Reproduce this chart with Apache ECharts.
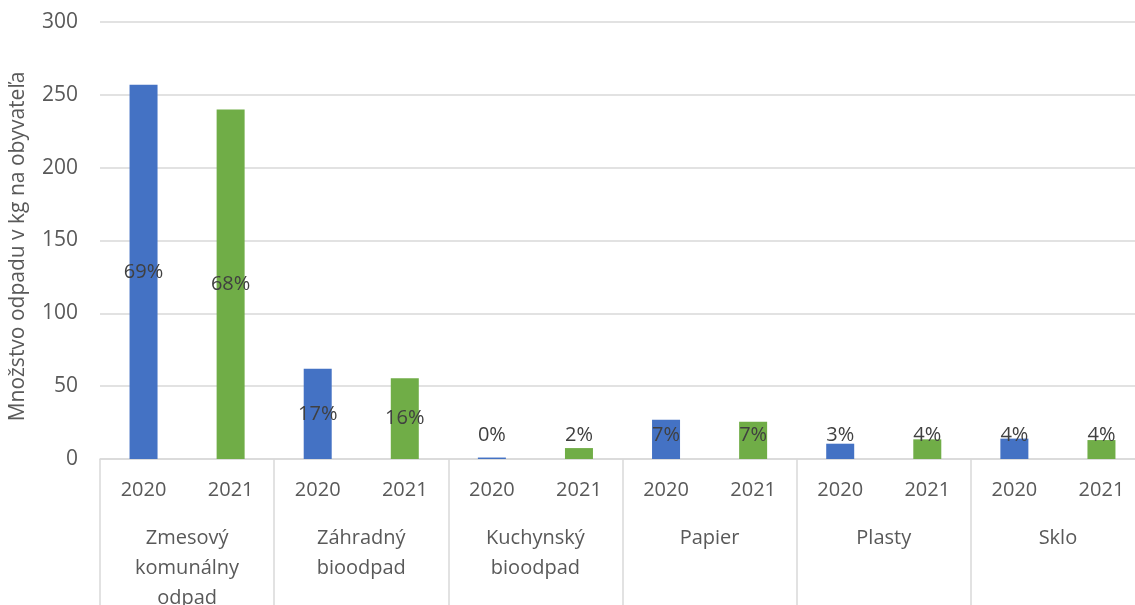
<!DOCTYPE html>
<html>
<head>
<meta charset="utf-8">
<script src="https://cdn.jsdelivr.net/npm/echarts@6/dist/echarts.min.js"></script>
<style>
  html, body { margin: 0; padding: 0; background: #fff; }
  #chart { width: 1135px; height: 605px; }
</style>
</head>
<body>
<div id="chart"></div>
<script>
// waste per inhabitant (kg), two years per waste type
const years = ['2020', '2021'];
const groups = ['Zmesový\nkomunálny\nodpad', 'Záhradný\nbioodpad', 'Kuchynský\nbioodpad', 'Papier', 'Plasty', 'Sklo'];
const values2020 = [257, 62, 1, 27, 10.5, 14];
const values2021 = [240, 55.5, 7.5, 25.5, 13.5, 13];
const share2020 = ['69%', '17%', '0%', '7%', '3%', '4%'];
const share2021 = ['68%', '16%', '2%', '7%', '4%', '4%'];
const yTicks = [0, 50, 100, 150, 200, 250, 300];

const font = '"Open Sans", "Noto Sans", sans-serif';
const gridColor = '#d9d9d9';

// flat category list: one slot per (group, year)
const slots = [];
groups.forEach(() => years.forEach(y => slots.push(y)));

function buildSeries(values, shares, yearIdx) {
  const data = [];
  groups.forEach((g, i) => {
    years.forEach((y, j) => {
      if (j !== yearIdx) { data.push(null); return; }
      const v = values[i];
      // small bars: keep label just above the axis like Excel does
      const small = v < 33;
      data.push({
        value: v,
        label: small
          ? { position: 'insideBottom', distance: 14 }
          : { position: 'inside' },
        share: shares[i]
      });
    });
  });
  return data;
}

const chart = echarts.init(document.getElementById('chart'));

chart.setOption({
  animation: false,
  grid: { left: 100, right: -10, top: 22, bottom: 146, outerBoundsMode: 'none' },
  xAxis: [
    {
      type: 'category',
      data: slots,
      axisLine: { lineStyle: { color: gridColor, width: 1.5 } },
      axisTick: { show: false },
      axisLabel: { interval: 0, margin: 21, fontSize: 20, color: '#595959', fontFamily: font }
    },
    {
      type: 'category',
      data: groups,
      position: 'bottom',
      axisLine: { show: false },
      axisTick: { show: true, length: 150, lineStyle: { color: gridColor, width: 1.5 } },
      axisLabel: { interval: 0, margin: 64, fontSize: 20, lineHeight: 30, color: '#595959', fontFamily: font }
    }
  ],
  yAxis: {
    type: 'value',
    min: yTicks[0],
    max: yTicks[yTicks.length - 1],
    interval: 50,
    name: 'Množstvo odpadu v kg na obyvateľa',
    nameLocation: 'middle',
    nameGap: 71,
    nameTextStyle: { fontSize: 21, color: '#595959', fontFamily: font, padding: [0, 12, 0, 0] },
    axisLine: { show: false },
    axisTick: { show: false },
    axisLabel: { margin: 22, fontSize: 21, color: '#595959', fontFamily: font },
    splitLine: { lineStyle: { color: gridColor, width: 1.5 } }
  },
  series: [
    {
      name: '2020',
      type: 'bar',
      stack: 'all',
      barWidth: 28,
      itemStyle: { color: '#4472C4' },
      label: {
        show: true,
        fontSize: 20,
        color: '#404040',
        fontFamily: font,
        formatter: p => p.data.share
      },
      data: buildSeries(values2020, share2020, 0)
    },
    {
      name: '2021',
      type: 'bar',
      stack: 'all',
      barWidth: 28,
      itemStyle: { color: '#70AD47' },
      label: {
        show: true,
        fontSize: 20,
        color: '#404040',
        fontFamily: font,
        formatter: p => p.data.share
      },
      data: buildSeries(values2021, share2021, 1)
    }
  ]
});
</script>
</body>
</html>
